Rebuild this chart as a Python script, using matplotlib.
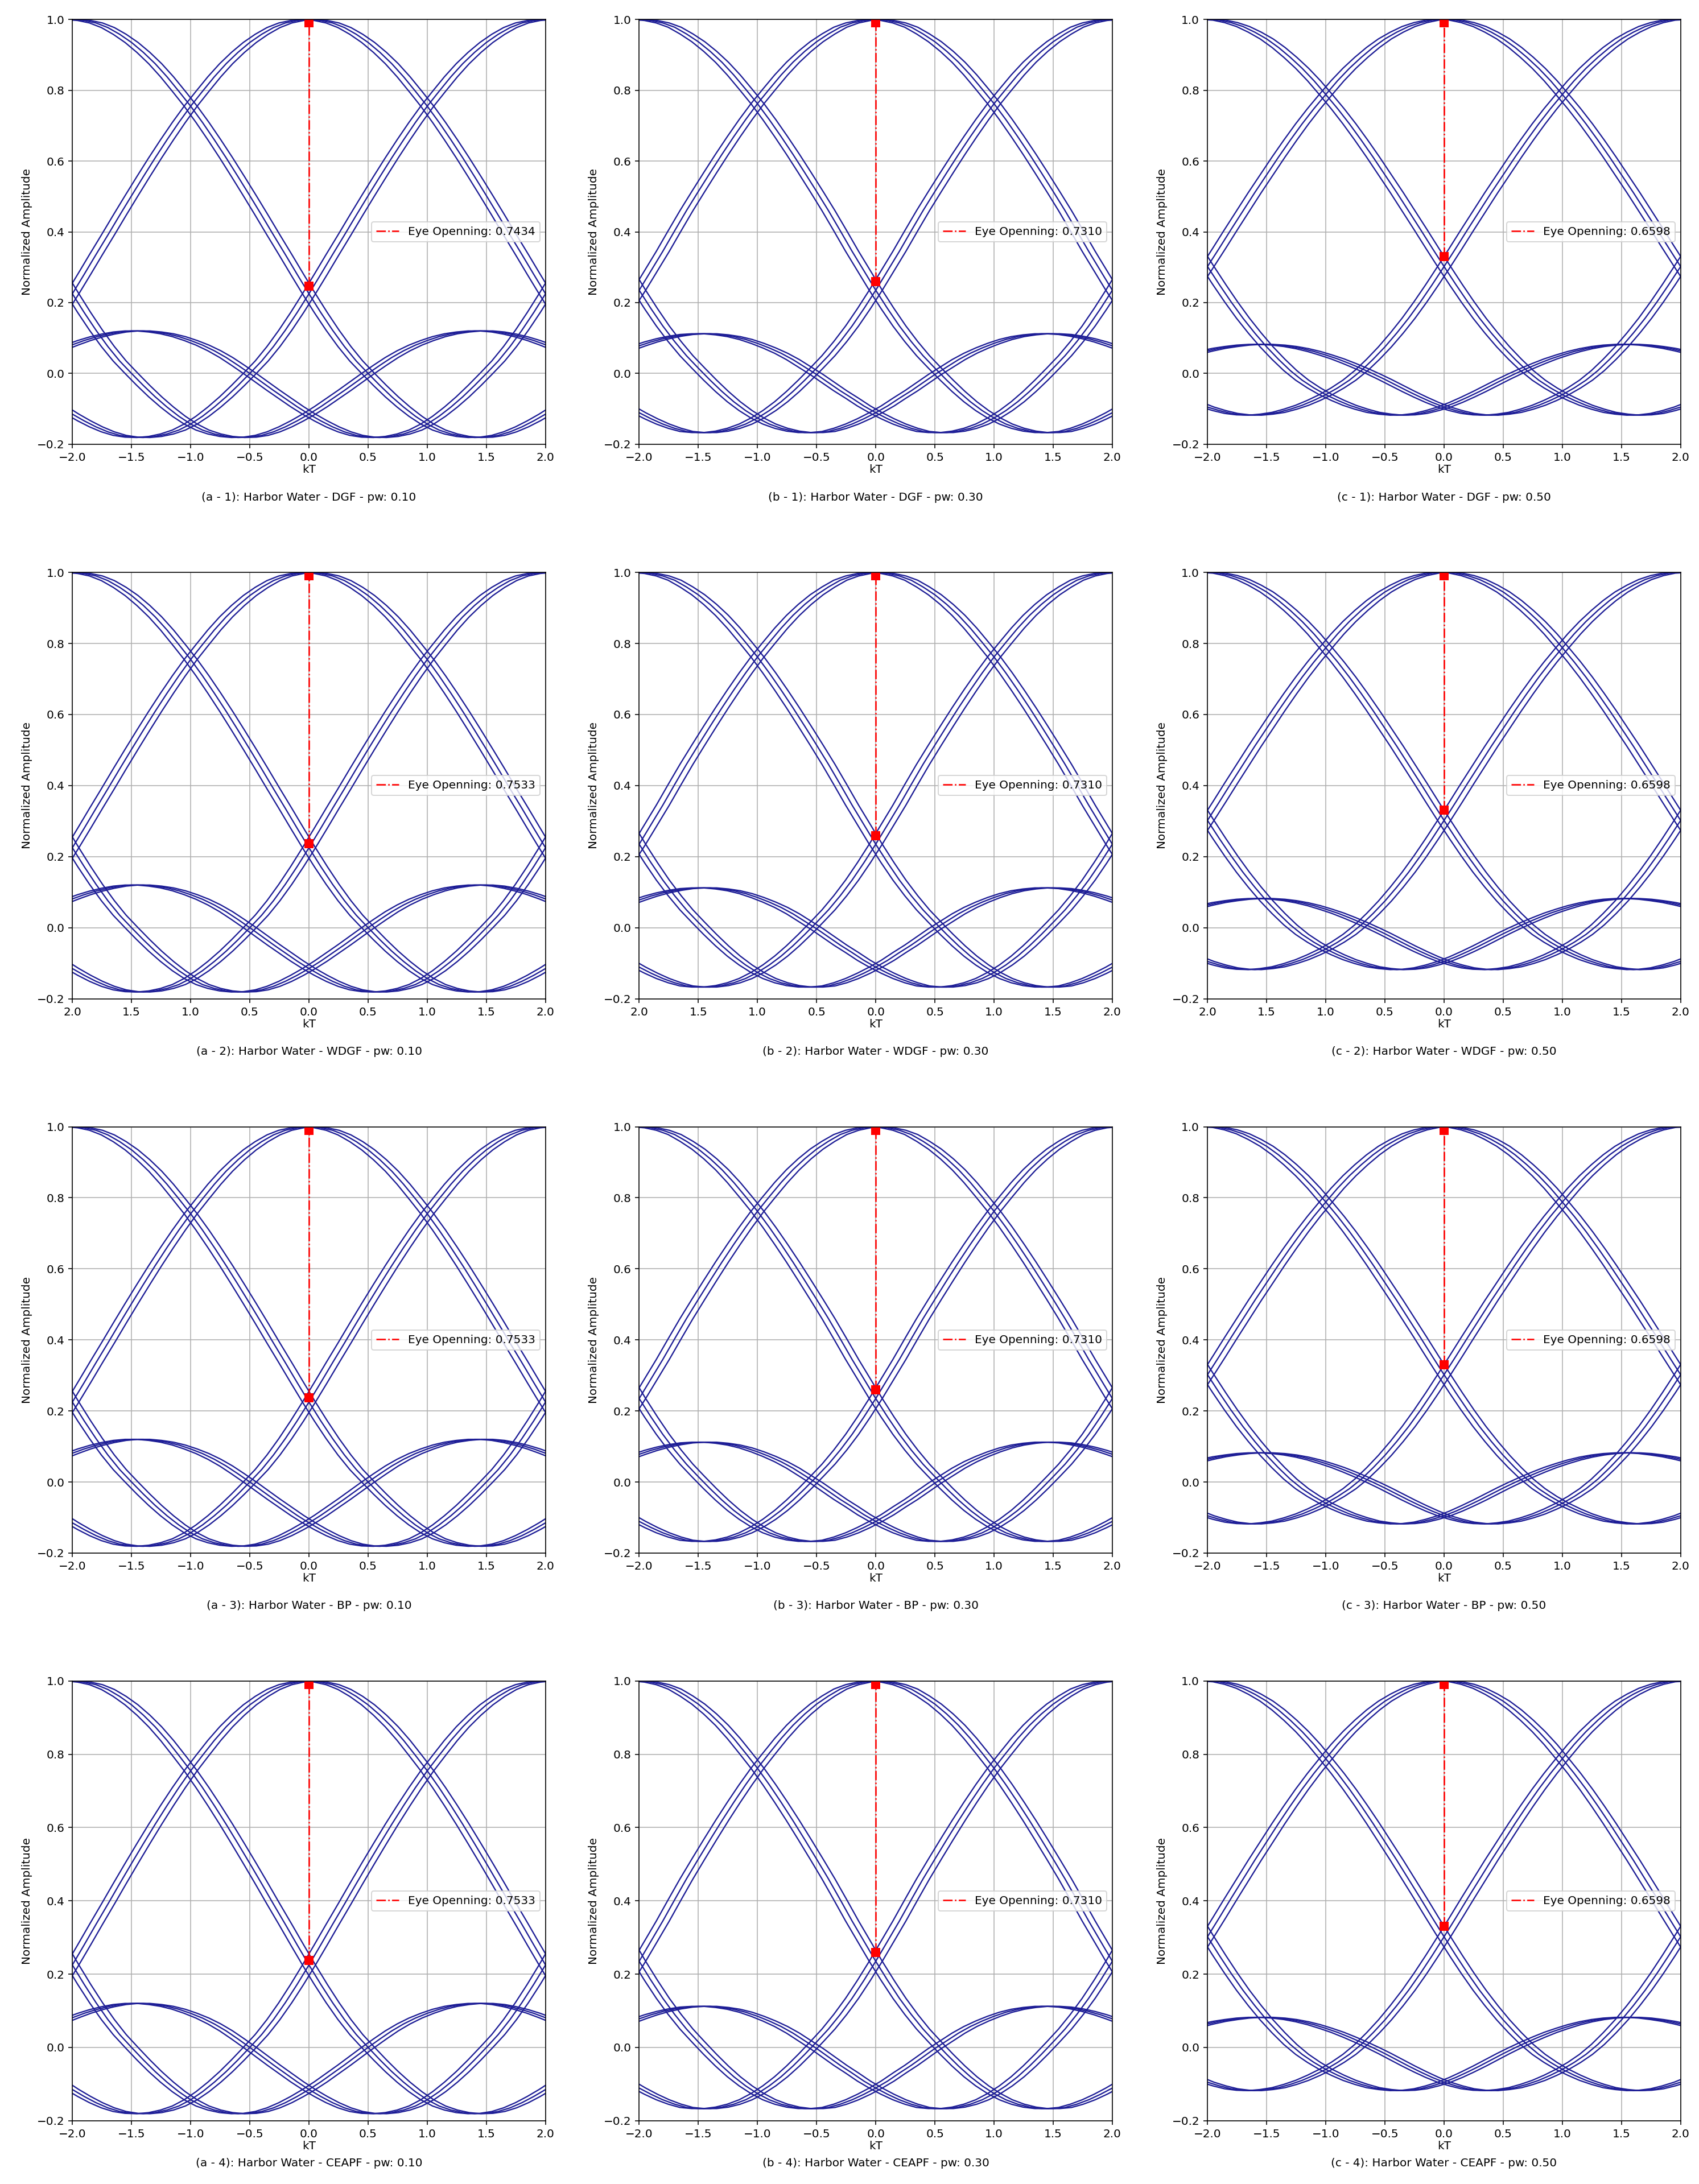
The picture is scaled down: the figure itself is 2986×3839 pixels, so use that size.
import matplotlib
matplotlib.use("Agg")
import matplotlib.pyplot as plt
import numpy as np

pulse_d = np.round(np.arange(0, 6.45, 0.1), 2)

pulse_a = [1.000, 0.997, 0.990, 0.977, 0.958, 0.935, 0.907, 0.875, 0.838, 0.797,
           0.755, 0.709, 0.660, 0.609, 0.556, 0.502, 0.447, 0.391, 0.336, 0.280,
           0.225, 0.172, 0.122, 0.076, 0.035, 0.000, -0.034, -0.066, -0.095, -0.121,
           -0.143, -0.160, -0.171, -0.178, -0.181, -0.180, -0.175, -0.165, -0.151, -0.134,
           -0.115, -0.094, -0.071, -0.048, -0.024, 0.000, 0.023, 0.045, 0.064, 0.080,
           0.093, 0.104, 0.112, 0.117, 0.120, 0.120, 0.117, 0.111, 0.103, 0.093,
           0.081, 0.068, 0.054, 0.039, 0.024]

pulse_b = [1.000, 0.997, 0.990, 0.978, 0.959, 0.937, 0.910, 0.879, 0.843, 0.803,
           0.762, 0.717, 0.669, 0.619, 0.567, 0.514, 0.460, 0.403, 0.345, 0.290,
           0.235, 0.183, 0.134, 0.090, 0.050, 0.015, -0.019, -0.051, -0.080, -0.105,
           -0.126, -0.143, -0.155, -0.163, -0.167, -0.167, -0.164, -0.155, -0.143, -0.128,
           -0.111, -0.092, -0.070, -0.049, -0.026, -0.003, 0.018, 0.039, 0.057, 0.072,
           0.085, 0.096, 0.104, 0.109, 0.112, 0.112, 0.110, 0.105, 0.098, 0.089,
           0.078, 0.066, 0.053, 0.039, 0.025]

pulse_c = [1.000, 0.998, 0.991, 0.980, 0.964, 0.945, 0.921, 0.893, 0.862, 0.827,
           0.788, 0.748, 0.705, 0.659, 0.611, 0.561, 0.511, 0.459, 0.407, 0.354,
           0.302, 0.251, 0.202, 0.156, 0.114, 0.075, 0.040, 0.008, -0.019, -0.041,
           -0.060, -0.076, -0.090, -0.101, -0.110, -0.115, -0.118, -0.117, -0.113, -0.105,
           -0.095, -0.082, -0.067, -0.051, -0.034, -0.017, -0.001, 0.014, 0.028, 0.041,
           0.052, 0.062, 0.070, 0.076, 0.080, 0.082, 0.082, 0.080, 0.076, 0.071,
           0.064, 0.056, 0.047, 0.037, 0.027]

pulses = [pulse_a, pulse_b, pulse_c]
symbol_centers = [-4, -2, 0, 2, 4]
timing_offsets = [-0.055, 0.0, 0.055]

col_letters = ['a', 'b', 'c']
pw_values = ['0.10', '0.30', '0.50']
filters = ['DGF', 'WDGF', 'BP', 'CEAPF']
eye_top = 0.99
eye_openings = [[0.7434, 0.7310, 0.6598],
                [0.7533, 0.7310, 0.6598],
                [0.7533, 0.7310, 0.6598],
                [0.7533, 0.7310, 0.6598]]

x_ticks = [-2.0, -1.5, -1.0, -0.5, 0.0, 0.5, 1.0, 1.5, 2.0]
x_labels = ['\u22122.0', '\u22121.5', '\u22121.0', '\u22120.5', '0.0', '0.5', '1.0', '1.5', '2.0']
x_labels_row2 = ['2.0', '1.5', '1.0', '0.5', '0.0', '0.5', '1.0', '1.5', '2.0']
y_ticks = [-0.2, 0.0, 0.2, 0.4, 0.6, 0.8, 1.0]

fig = plt.figure(figsize=(2986 / 144, 3839 / 144), dpi=144)

lefts = [0.0426, 0.3762, 0.7107]
width = 0.2785
bottoms = [0.7966, 0.5427, 0.2889, 0.0290]
heights = [0.1945, 0.1952, 0.1952, 0.2013]
caption_y = [0.7723, 0.5185, 0.2647, 0.0096]
line_col = '#1d1d96'

for r in range(4):
    for c in range(3):
        ax = fig.add_axes([lefts[c], bottoms[r], width, heights[r]])
        d = np.array(pulse_d)
        p = np.array(pulses[c])
        dd = np.concatenate([-d[::-1], d[1:]])
        pp = np.concatenate([p[::-1], p[1:]])
        for sc in symbol_centers:
            for dt in timing_offsets:
                ax.plot(sc + dt + dd, pp, color=line_col, lw=1.15)
        eye = eye_openings[r][c]
        lo = eye_top - eye
        ax.plot([0, 0], [lo, eye_top], color='red', ls='-.', lw=1.3,
                label=f'Eye Openning: {eye:.4f}')
        ax.plot([0, 0], [lo, eye_top], 's', color='red', ms=7)
        ax.set_xlim(-2, 2)
        ax.set_ylim(-0.2, 1.0)
        ax.set_xticks(x_ticks)
        ax.set_xticklabels(x_labels_row2 if r == 1 else x_labels)
        ax.set_yticks(y_ticks)
        ax.grid(True)
        ax.set_xlabel('kT', labelpad=1)
        ax.set_ylabel('Normalized Amplitude')
        ax.legend(loc='center right')
        fig.text(lefts[c] + width / 2, caption_y[r],
                 f'({col_letters[c]} - {r + 1}): Harbor Water - {filters[r]} - pw: {pw_values[c]}',
                 ha='center', va='center', fontsize=10)

fig.savefig('out.png', dpi=144)
